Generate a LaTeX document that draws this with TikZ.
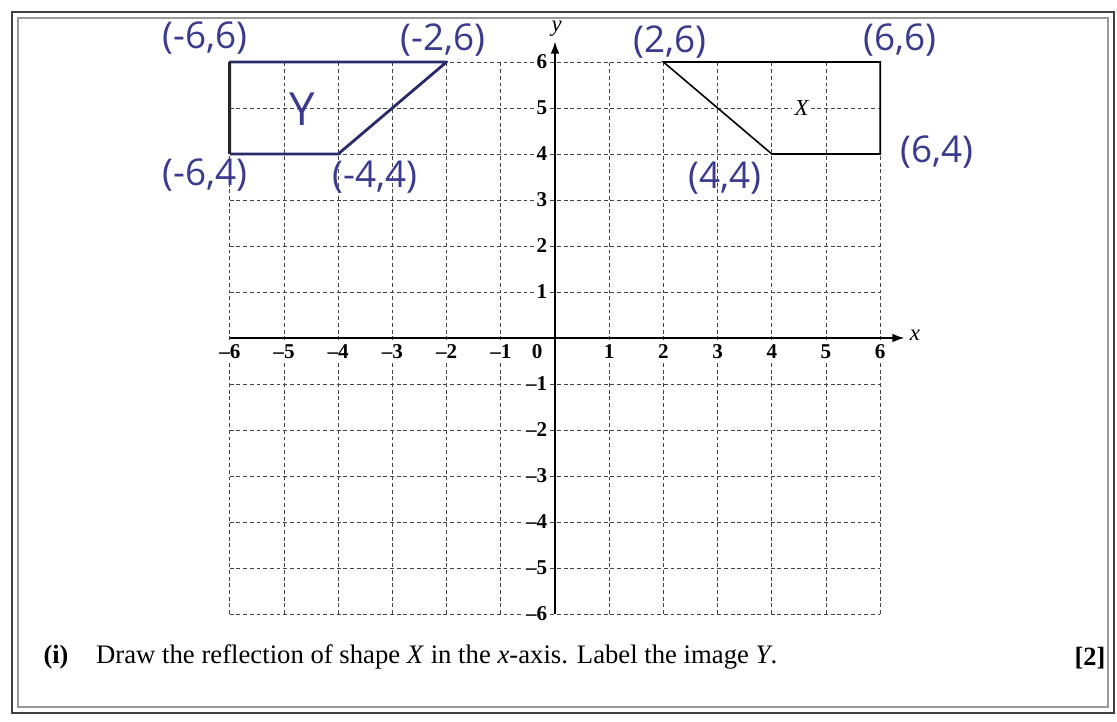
\documentclass[tikz,border=0pt]{standalone}
\usepackage{fontspec}
\setmainfont{Liberation Serif}
\newfontfamily\hand{Open Sans}
\usetikzlibrary{arrows.meta}
\definecolor{ink}{HTML}{3A3A8E}
\definecolor{navy}{HTML}{2A2A6A}
\definecolor{gridc}{HTML}{444444}
\tikzset{
  gridline/.style={gridc, line width=0.55pt, dash pattern=on 2.2pt off 1.6pt},
  axisline/.style={black, line width=1.1pt},
  ticklab/.style={font=\bfseries\fontsize{12}{13}\selectfont, fill=white, inner sep=1.2pt},
  handlab/.style={ink, font=\hand\fontsize{21}{23}\selectfont, inner sep=0pt},
  shapeX/.style={black, line width=0.9pt},
  shapeY/.style={navy, line width=1.6pt, line join=round},
}
\begin{document}
\begin{tikzpicture}
\useasboundingbox (0,0) rectangle (22.34,14.44);
% frame
\draw[line width=1.6pt, black!75] (0.24,0.18) rectangle (22.28,14.2);
\draw[line width=0.7pt, black!40] (0.36,0.3) rectangle (22.16,14.08);
\begin{scope}[shift={(11.1,7.68)}, x=1.084cm, y=0.92cm]
  % grid
  \foreach \i in {-6,...,-1,1,2,...,6}{
    \draw[gridline] (\i,-6) -- (\i,6);
  }
  \foreach \j in {-6,...,-1,1,2,...,6}{
    \draw[gridline] (-6,\j) -- (6,\j);
  }
  % axes
  \coordinate (xs) at (-6,0);
  \coordinate (xe) at (6.45,0);
  \coordinate (ys) at (0,-6);
  \coordinate (ye) at (0,6.45);
  \draw[axisline, -{Latex[length=7pt,width=5pt]}] (xs) -- (xe);
  \draw[axisline, -{Latex[length=7pt,width=5pt]}] (ys) -- (ye);
  \node[font=\itshape\fontsize{13}{13}\selectfont] (xl) at (6.64,0.05) {x};
  \node[font=\itshape\fontsize{13}{13}\selectfont] (yl) at (0.03,6.72) {y};
  % tick labels
  \foreach \i in {-6,...,-1}{
    \node[ticklab] (tx\i) at (\i,-0.3) {–\the\numexpr-\i\relax};
  }
  \foreach \i in {1,...,6}{
    \node[ticklab] (tx\i) at (\i,-0.3) {\i};
  }
  \node[ticklab] (t0) at (-0.33,-0.3) {0};
  \foreach \j in {1,...,6}{
    \node[ticklab, anchor=east] (ty\j) at (-0.1,\j) {\j};
  }
  \foreach \j in {-6,...,-1}{
    \node[ticklab, anchor=east] (ty\j) at (-0.1,\j) {–\the\numexpr-\j\relax};
  }
  % shape X
  \coordinate (a) at (2,6);
  \coordinate (b) at (6,6);
  \coordinate (c) at (6,4);
  \coordinate (d) at (4,4);
  \draw[shapeX] (a) -- (b) -- (c) -- (d) -- cycle;
  \node[font=\itshape\fontsize{13}{13}\selectfont, fill=white, inner sep=1.5pt] (xlab) at (4.55,5) {X};
  % shape Y
  \coordinate (p) at (-6,6);
  \coordinate (q) at (-2,6);
  \coordinate (r) at (-4,4);
  \coordinate (s) at (-6,4);
  \draw[shapeY] (s) -- (p) -- (q) -- (r) -- (s);
  \draw[black!85, line width=1.8pt] (s) -- (p);
  \node[handlab, font=\hand\fontsize{26}{28}\selectfont] (ylab) at (-4.67,4.98) {Y};
  % handwritten coordinates
  \node[handlab] (l1) at (-6.46,6.52) {(-6,6)};
  \node[handlab] (l2) at (-2.07,6.48) {(-2,6)};
  \node[handlab] (l3) at (-6.46,3.55) {(-6,4)};
  \node[handlab] (l4) at (-3.32,3.5) {(-4,4)};
  \node[handlab] (l5) at (2.12,6.43) {(2,6)};
  \node[handlab] (l6) at (6.37,6.48) {(6,6)};
  \node[handlab] (l7) at (3.14,3.48) {(4,4)};
  \node[handlab] (l8) at (7.05,4.04) {(6,4)};
\end{scope}
% question text
\node[font=\bfseries\fontsize{15}{17}\selectfont] (qi) at (1.12,1.3) {(i)};
\node[anchor=west, font=\fontsize{15.2}{17}\selectfont] (qt) at (1.8,1.3) {Draw the reflection of shape \textit{X} in the \textit{x}-axis. Label the image \textit{Y}.};
\node[font=\bfseries\fontsize{15}{17}\selectfont] (qm) at (21.8,1.28) {[2]};
\end{tikzpicture}
\end{document}
